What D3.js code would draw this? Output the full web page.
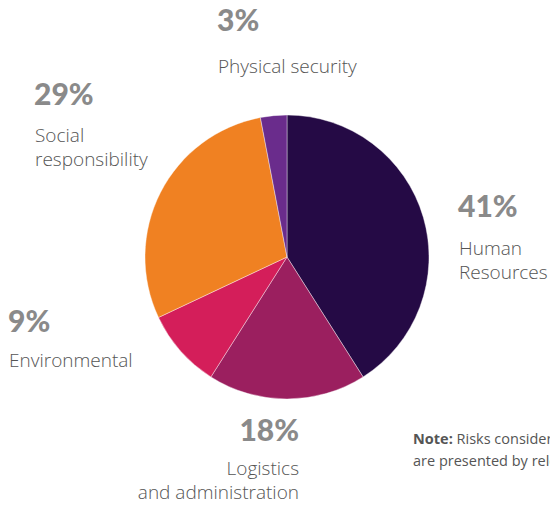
<!DOCTYPE html>
<html><head><meta charset="utf-8">
<script src="https://cdn.jsdelivr.net/npm/d3@7"></script>
<style>
body{margin:0;background:#fff;}
svg{display:block;}
</style></head>
<body>
<svg id="c" width="550" height="507"></svg>
<script>
const categories = ["Human Resources", "Logistics and administration", "Environmental", "Social responsibility", "Physical security"];
const values = [41, 18, 9, 29, 3];
const colors = ["#250a45", "#9b1f5f", "#d41e5a", "#f08122", "#6a2c8c"];
const labelLines = [["Human", "Resources"], ["Logistics", "and administration"], ["Environmental"], ["Social", "responsibility"], ["Physical security"]];
const pctLabels = ["41%", "18%", "9%", "29%", "3%"];

const svg = d3.select("#c");
const cx = 287, cy = 257, r = 142;
const pie = d3.pie().sort(null).value(d => d)(values);
const arc = d3.arc().innerRadius(0).outerRadius(r);
svg.append("g").attr("transform", `translate(${cx},${cy})`)
  .selectAll("path").data(pie).join("path")
  .attr("d", arc)
  .attr("fill", (d, i) => colors[i])
  .attr("stroke", "#fff").attr("stroke-width", 0.4);

// label layout: [x, pctBaseline, firstLineBaseline, anchor]
const layout = [
  [459, 217, 255, "start"],
  [299, 441, 475, "end"],
  [9, 332, 367, "start"],
  [35, 105, 142, "start"],
  [218, 31, 73, "start"]
];
const pctFont = "Lato, sans-serif";
const font = "'Open Sans', sans-serif";
layout.forEach((L, i) => {
  svg.append("text").attr("x", L[3] === "start" ? L[0] - 1 : L[0]).attr("y", L[1])
    .attr("text-anchor", L[3])
    .attr("font-family", pctFont).attr("font-weight", 900).attr("font-size", 30)
    .attr("fill", "#8a8a8a").text(pctLabels[i]);
  labelLines[i].forEach((t, j) => {
    svg.append("text").attr("x", L[0]).attr("y", L[2] + j * 24)
      .attr("text-anchor", L[3])
      .attr("font-family", font).attr("font-weight", 300).attr("font-size", 19)
      .attr("fill", "#555").text(t);
  });
});

const note = svg.append("text").attr("x", 413).attr("y", 444)
  .attr("font-family", font).attr("font-size", 14.5).attr("fill", "#555");
note.append("tspan").attr("font-weight", 700).text("Note:");
note.append("tspan").text(" Risks considered by the companies");
svg.append("text").attr("x", 413).attr("y", 466)
  .attr("font-family", font).attr("font-size", 14.5).attr("fill", "#555")
  .text("are presented by relevance");
</script>
</body></html>
